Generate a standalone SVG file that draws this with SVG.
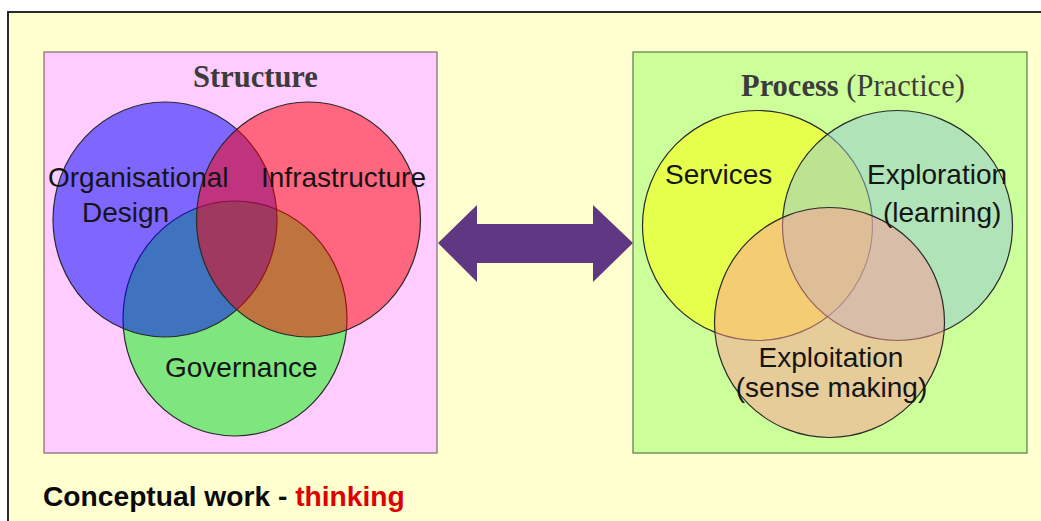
<svg xmlns="http://www.w3.org/2000/svg" width="1041" height="521" viewBox="0 0 1041 521">
<style>
.lbl{font-family:"Liberation Sans",Arial,sans-serif;font-size:28px;fill:#151515}
.ttl{font-family:"Liberation Serif","Times New Roman",serif;font-size:30.5px;fill:#3c3c3c}
.c{stroke:#2a2a2a;stroke-width:1.2;fill-opacity:0.5}
</style>
<rect x="0" y="0" width="1041" height="521" fill="#ffffff"/>
<rect id="frame" x="8" y="12" width="1050" height="530" fill="#ffffcf" stroke="#2a2a2a" stroke-width="2"/>

<g id="structure">
  <rect x="44" y="52" width="393" height="401" fill="#ffccff" stroke="#7a6a7a" stroke-width="1.2"/>
  <text class="ttl" x="255.5" y="87" text-anchor="middle" font-weight="bold">Structure</text>
  <g id="governance">
    <ellipse class="c" cx="235" cy="318.5" rx="112" ry="117.5" fill="#00ff00"/>
  </g>
  <g id="org-design">
    <ellipse class="c" cx="165" cy="219.5" rx="112" ry="117.5" fill="#0000ff"/>
  </g>
  <g id="infrastructure">
    <ellipse class="c" cx="308.5" cy="219.5" rx="112" ry="117.5" fill="#ff0000"/>
  </g>
  <text class="lbl" x="48" y="187">Organisational</text>
  <text class="lbl" x="82" y="222">Design</text>
  <text class="lbl" x="261" y="187">Infrastructure</text>
  <text class="lbl" x="165" y="377">Governance</text>
</g>

<g id="connectors">
  <polygon points="438,243 477,205 477,224 593,224 593,205 633,243 593,282 593,263 477,263 477,282" fill="#603782"/>
</g>

<g id="process">
  <rect x="633" y="52" width="394" height="401" fill="#ccff99" stroke="#5a7a4a" stroke-width="1.2"/>
  <text class="ttl" x="741" y="96" font-size="31.2"><tspan font-weight="bold">Process</tspan> (Practice)</text>
  <g id="services">
    <circle class="c" cx="757.5" cy="225.5" r="115" fill="#ffff00"/>
  </g>
  <g id="exploration">
    <circle class="c" cx="897.5" cy="225.5" r="115" fill="#94c8d8"/>
  </g>
  <g id="exploitation">
    <circle class="c" cx="829.5" cy="322.5" r="115" fill="#ff9999"/>
  </g>
  <text class="lbl" x="665" y="184">Services</text>
  <text class="lbl" x="867" y="184">Exploration</text>
  <text class="lbl" x="883" y="222">(learning)</text>
  <text class="lbl" x="831" y="367" text-anchor="middle">Exploitation</text>
  <text class="lbl" x="831.5" y="397" text-anchor="middle">(sense making)</text>
</g>

<g id="caption">
  <text x="43" y="506" font-family="'Liberation Sans',Arial,sans-serif" font-size="28.2" font-weight="bold" fill="#0a0a0a">Conceptual work - <tspan fill="#e00000">thinking</tspan></text>
</g>
</svg>
